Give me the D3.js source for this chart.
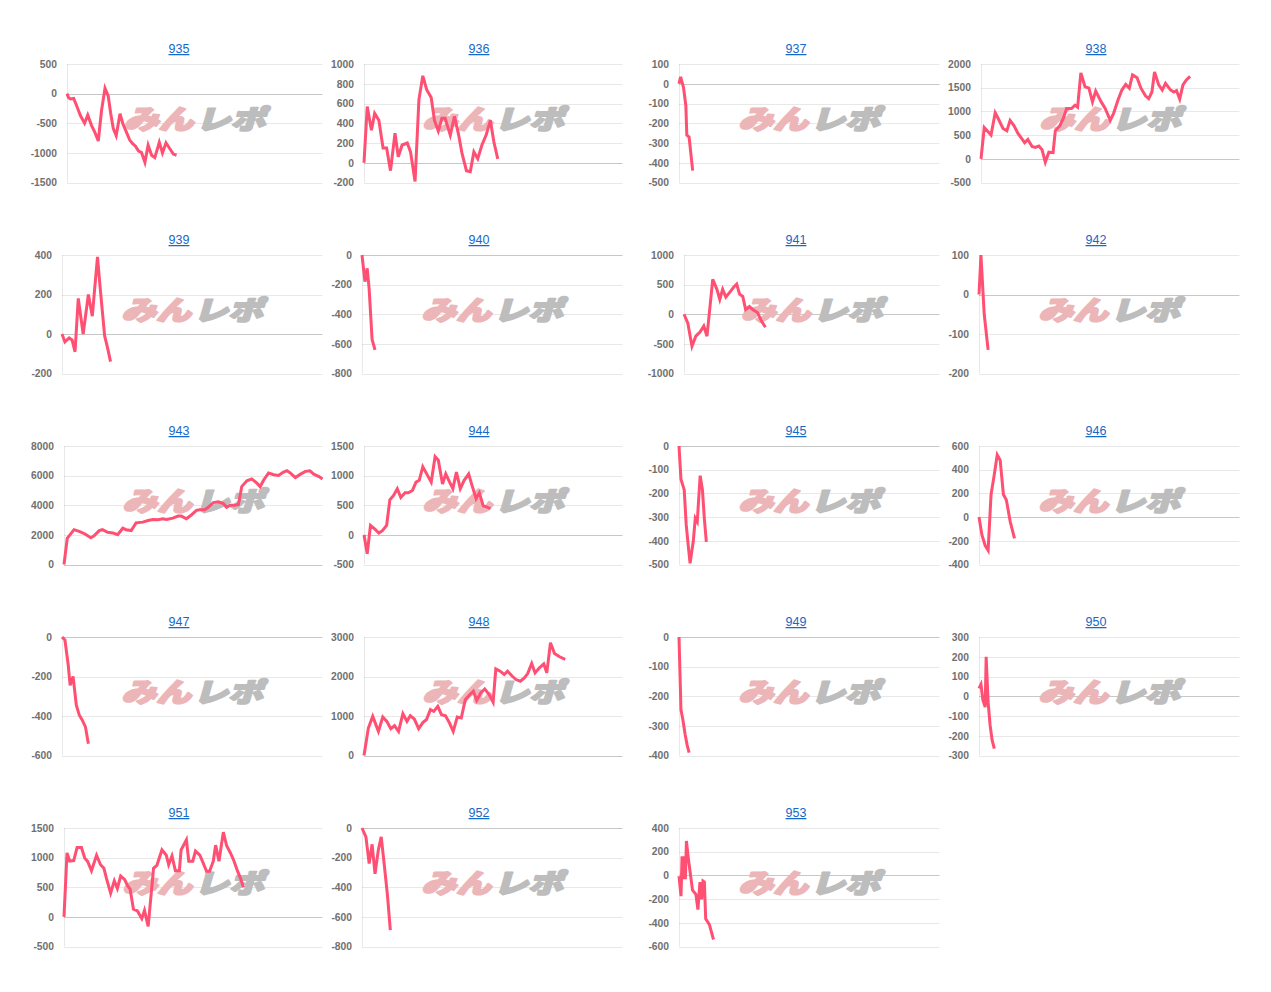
<!DOCTYPE html>
<html>
<head>
<meta charset="utf-8">
<script src="https://cdn.jsdelivr.net/npm/d3@7"></script>
<style>
  body { margin: 0; background: #fff; }
  svg { display: block; }
</style>
</head>
<body>
<svg id="chart" width="1271" height="992"></svg>
<script>
// 台番号
var machines = ["935", "936", "937", "938", "939", "940", "941", "942", "943", "944",
                "945", "946", "947", "948", "949", "950", "951", "952", "953"];

// 各台: G数 (g) と 差枚 (d)
var g935 = [0,50,110,210,320,420,550,650,770,870,980,1080,1190,1290,1370,1450,1540,1660,1750,1860,1960,2050,2150,2240,2330,2440,2540,2650,2750,2890,2990,3100,3220,3330,3430];
var d935 = [0,-70,-90,-80,-230,-370,-500,-360,-540,-650,-800,-290,90,-40,-340,-590,-710,-340,-510,-650,-780,-840,-890,-970,-990,-1160,-870,-1040,-1080,-820,-1000,-830,-930,-1020,-1040];

var g936 = [0,100,230,330,460,590,700,820,960,1060,1180,1340,1440,1580,1700,1820,1940,2080,2180,2300,2410,2510,2670,2800,2930,3030,3170,3290,3400,3520,3650,3780,3910,4020,4140];
var d936 = [0,570,330,500,430,150,150,-80,300,60,180,200,110,-190,640,880,740,660,430,320,450,450,280,470,280,100,-80,-90,110,40,180,280,430,210,40];

var g937 = [0,50,140,210,240,310,420];
var d937 = [0,35,-20,-110,-260,-270,-440];

var g938 = [0,100,310,440,540,680,800,900,1020,1140,1350,1450,1580,1680,1790,1890,1990,2100,2230,2300,2440,2540,2650,2800,2910,2990,3090,3220,3340,3450,3550,3720,3840,4000,4100,4240,4360,4480,4590,4690,4830,4950,5090,5190,5290,5370,5500,5610,5710,5870,5970,6050,6150,6250,6350,6470];
var d938 = [0,660,500,970,840,640,590,810,700,540,340,410,260,240,270,190,-70,140,130,590,700,840,1060,1060,1130,1090,1810,1520,1490,1200,1430,1200,1070,810,950,1240,1450,1570,1490,1770,1710,1490,1330,1270,1410,1830,1560,1450,1590,1450,1410,1440,1260,1560,1660,1740];

var g939 = [0,90,220,310,400,500,650,810,930,1090,1180,1310,1400,1490];
var d939 = [0,-40,-20,-30,-90,180,0,200,90,390,220,-10,-70,-140];

var g940 = [0,90,160,220,310,400];
var d940 = [0,-180,-90,-230,-570,-640];

var g941 = [0,120,250,370,500,620,720,900,1030,1120,1210,1310,1430,1560,1650,1740,1840,1930,2050,2150,2300,2430,2550];
var d941 = [0,-150,-540,-370,-300,-200,-370,590,420,250,420,290,370,460,510,340,300,80,130,80,30,-120,-220];

var g942 = [0,60,160,280];
var d942 = [0,100,-50,-140];

var g943 = [0,100,310,490,650,830,930,1090,1190,1350,1510,1660,1820,1920,2080,2230,2440,2600,2750,2910,3060,3170,3370,3530,3630,3790,3950,4100,4200,4360,4460,4620,4780,4930,5030,5140,5290,5400,5500,5660,5810,5970,6070,6180,6330,6490,6640,6780,6900,7010,7160,7320,7470,7610,7730,7890,8000];
var d943 = [0,1760,2350,2220,2060,1810,1940,2290,2350,2170,2130,2010,2450,2350,2290,2810,2860,2970,3040,3020,3090,3040,3130,3270,3270,3090,3360,3660,3700,3700,3860,4180,4230,4110,3860,4000,4000,4050,5260,5650,5780,5490,5260,5710,6170,6060,6010,6220,6330,6170,5870,6100,6290,6330,6100,5940,5780];

var g944 = [0,100,200,330,460,570,700,800,920,1030,1140,1270,1370,1500,1610,1710,1820,1940,2080,2200,2300,2430,2530,2650,2750,2860,2980,3100,3240,3340,3470,3570,3690,3810,3910];
var d944 = [0,-320,160,100,30,70,160,590,670,780,630,710,710,750,890,920,1150,1030,890,1320,1260,860,1030,890,780,1060,780,920,1030,840,610,710,490,470,440];

var g945 = [0,60,160,220,280,340,440,500,560,650,720,780,840];
var d945 = [0,-140,-185,-330,-415,-495,-400,-305,-320,-125,-185,-310,-405];

var g946 = [0,90,190,280,370,470,560,650,750,840,960,1090];
var d946 = [0,-150,-240,-280,190,360,525,480,190,145,-40,-180];

var g947 = [0,90,190,250,340,440,530,620,720,810];
var d947 = [0,-15,-140,-245,-200,-345,-395,-420,-455,-540];

var g948 = [0,135,270,446,581,706,830,945,1069,1204,1329,1433,1557,1692,1827,1931,2055,2159,2284,2398,2522,2647,2761,2886,3010,3135,3249,3384,3488,3612,3737,3872,3996,4079,4214,4339,4443,4567,4702,4837,4962,5065,5190,5294,5429,5564,5657,5771,5896,6052,6228];
var d948 = [0,695,991,610,974,864,678,754,610,1059,864,1008,923,678,839,906,1160,1118,1245,1033,1008,822,610,974,949,1415,1516,1626,1398,1584,1685,1542,1347,2194,2134,2050,2134,2024,1923,1880,1965,2075,2329,2092,2219,2320,2092,2854,2583,2499,2431];

var g949 = [0,60,120,190,250,310];
var d949 = [0,-245,-280,-330,-365,-390];

var g950 = [0,60,120,190,220,280,340,400,470];
var d950 = [40,60,-20,-55,200,-30,-145,-220,-265];

var g951 = [0,93,176,301,405,540,644,727,851,1007,1131,1235,1318,1443,1557,1651,1754,1879,1962,2045,2149,2273,2408,2491,2605,2771,2875,3031,3166,3239,3342,3446,3571,3623,3789,3861,3986,4069,4204,4277,4412,4506,4620,4692,4796,4931,5034,5159,5263,5366,5470,5553];
var d951 = [0,1080,940,950,1170,1170,990,940,780,1040,880,820,640,400,610,480,690,630,530,470,130,100,-30,110,-160,820,870,1130,1040,880,1030,780,780,1130,1300,940,940,1110,1040,950,770,770,940,1210,940,1430,1200,1070,940,780,640,500];

var g952 = [0,120,220,310,400,500,590,680,780,870];
var d952 = [0,-60,-240,-110,-310,-150,-60,-240,-450,-690];

var g953 = [0,31,62,93,135,166,197,228,291,415,519,581,644,695,737,779,820,934,1059];
var d953 = [-6,-90,-175,150,150,-20,-20,290,135,-124,-160,-288,-56,-203,-48,-56,-367,-415,-541];

// 縦軸の目盛り
var t935 = [500, 0, -500, -1000, -1500];
var t936 = [1000, 800, 600, 400, 200, 0, -200];
var t937 = [100, 0, -100, -200, -300, -400, -500];
var t938 = [2000, 1500, 1000, 500, 0, -500];
var t939 = [400, 200, 0, -200];
var t940 = [0, -200, -400, -600, -800];
var t941 = [1000, 500, 0, -500, -1000];
var t942 = [100, 0, -100, -200];
var t943 = [8000, 6000, 4000, 2000, 0];
var t944 = [1500, 1000, 500, 0, -500];
var t945 = [0, -100, -200, -300, -400, -500];
var t946 = [600, 400, 200, 0, -200, -400];
var t947 = [0, -200, -400, -600];
var t948 = [3000, 2000, 1000, 0];
var t949 = [0, -100, -200, -300, -400];
var t950 = [300, 200, 100, 0, -100, -200, -300];
var t951 = [1500, 1000, 500, 0, -500];
var t952 = [0, -200, -400, -600, -800];
var t953 = [400, 200, 0, -200, -400, -600];

var gamesList = [g935,g936,g937,g938,g939,g940,g941,g942,g943,g944,g945,g946,g947,g948,g949,g950,g951,g952,g953];
var diffList  = [d935,d936,d937,d938,d939,d940,d941,d942,d943,d944,d945,d946,d947,d948,d949,d950,d951,d952,d953];
var tickList  = [t935,t936,t937,t938,t939,t940,t941,t942,t943,t944,t945,t946,t947,t948,t949,t950,t951,t952,t953];

var maxGames = 8000;

// レイアウト
var colLeft = [29, 329, 646, 946];
var rowStep = 191;
var lineColor = "#ff4f72";

var svg = d3.select("#chart");

machines.forEach(function(name, i) {
  var col = i % 4;
  var row = Math.floor(i / 4);
  var titleY = 49 + row * rowStep;
  var top = titleY + 15;
  var bottom = titleY + 133.5;
  var cl = colLeft[col];
  var right = cl + 293.5;

  var panel = svg.append("g");
  var yTicks = tickList[i];

  var y = d3.scaleLinear()
    .domain(d3.extent(yTicks))
    .range([bottom, top]);

  // 目盛りラベル (幅を測ってから左端を決める)
  var axis = panel.append("g")
    .call(d3.axisLeft(y)
      .tickValues(yTicks)
      .tickSize(0)
      .tickPadding(10)
      .tickFormat(function(d) { return String(d); }));
  axis.select(".domain").remove();
  axis.selectAll("text")
    .attr("fill", "#707070")
    .style("font-family", "'Liberation Sans', Arial, sans-serif")
    .style("font-weight", "bold")
    .style("font-size", "10.3px");

  var maxW = d3.max(axis.selectAll("text").nodes(), function(n) { return n.getComputedTextLength(); });
  var left = Math.round(cl + maxW + 12);
  axis.attr("transform", "translate(" + left + ",0)");

  var x = d3.scaleLinear()
    .domain([0, maxGames])
    .range([left, right]);

  // グリッド線
  panel.insert("g", ":first-child")
    .selectAll("line")
    .data(yTicks)
    .enter()
    .append("line")
    .attr("x1", left)
    .attr("x2", right)
    .attr("y1", function(d) { return Math.round(y(d)) + 0.5; })
    .attr("y2", function(d) { return Math.round(y(d)) + 0.5; })
    .attr("stroke", function(d) { return d === 0 ? "rgba(0,0,0,0.22)" : "rgba(0,0,0,0.09)"; })
    .attr("stroke-width", 1);

  panel.append("line")
    .attr("x1", left + 0.5).attr("x2", left + 0.5)
    .attr("y1", top).attr("y2", bottom)
    .attr("stroke", "rgba(0,0,0,0.09)");

  // ウォーターマーク
  var wm = panel.append("g")
    .attr("transform", "translate(" + ((left + right) / 2) + "," + (titleY + 68) + ")");
  wm.append("text")
    .attr("transform", "translate(-36,12) skewX(-16) scale(1.2,0.92)")
    .attr("text-anchor", "middle")
    .attr("fill", "#ecb6b8")
    .attr("stroke", "#ecb6b8")
    .attr("stroke-width", 2.2)
    .attr("stroke-linejoin", "round")
    .style("font-family", "'Noto Sans CJK JP', sans-serif")
    .style("font-weight", 900)
    .style("font-size", "29px")
    .text("みん");
  wm.append("text")
    .attr("transform", "translate(36,12) skewX(-16) scale(1.2,0.92)")
    .attr("text-anchor", "middle")
    .attr("fill", "#bdbdbd")
    .attr("stroke", "#bdbdbd")
    .attr("stroke-width", 2.2)
    .attr("stroke-linejoin", "round")
    .style("font-family", "'Noto Sans CJK JP', sans-serif")
    .style("font-weight", 900)
    .style("font-size", "29px")
    .text("レポ");

  // 差枚の折れ線
  var pts = d3.zip(gamesList[i], diffList[i]);
  panel.append("path")
    .datum(pts)
    .attr("fill", "none")
    .attr("stroke", lineColor)
    .attr("stroke-width", 3)
    .attr("stroke-linejoin", "miter")
    .attr("d", d3.line()
      .x(function(d) { return x(d[0]); })
      .y(function(d) { return y(d[1]); }));

  // 台番号 (リンク)
  panel.append("text")
    .attr("x", cl + 150)
    .attr("y", titleY + 4)
    .attr("text-anchor", "middle")
    .attr("fill", "#1769c8")
    .style("font-family", "'Liberation Sans', Arial, sans-serif")
    .style("font-size", "12.5px")
    .style("text-decoration", "underline")
    .text(name);
});
</script>
</body>
</html>
